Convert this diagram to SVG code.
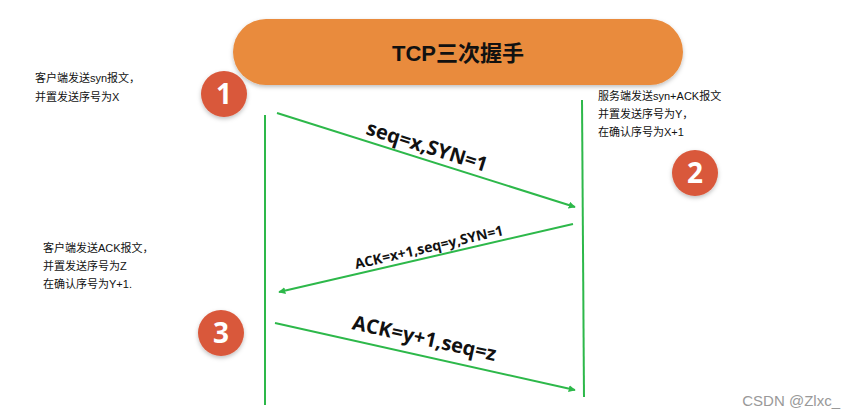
<svg xmlns="http://www.w3.org/2000/svg" width="841" height="418" viewBox="0 0 841 418">
<defs>
<marker id="ah" viewBox="0 0 10 10" refX="9" refY="5" markerWidth="7" markerHeight="7" orient="auto" markerUnits="userSpaceOnUse"><path d="M0,0 L10,5 L0,10 z" fill="#2db84a"/></marker>
<filter id="sh" x="-10%" y="-20%" width="120%" height="150%"><feDropShadow dx="0" dy="2" stdDeviation="2" flood-color="#000" flood-opacity="0.25"/></filter>
</defs>
<style>
.ln{stroke:#2db84a;stroke-width:2;fill:none}
.ar{stroke:#2db84a;stroke-width:2;fill:none;marker-end:url(#ah)}
.c{fill:#d9583b;filter:url(#sh)}
.n{font-family:"Open Sans","Liberation Sans",sans-serif;font-weight:bold;font-size:28px;fill:#fff;text-anchor:middle}
.t{font-family:"Liberation Sans","Noto Sans CJK SC",sans-serif;font-size:11px;fill:#111}
.lb{font-family:"Open Sans","Liberation Sans",sans-serif;font-weight:bold;fill:#111;text-anchor:middle}
</style>
<rect width="841" height="418" fill="#fff"/>
<g id="title"><rect x="233" y="19" width="450" height="66" rx="33" fill="#e98b3d" filter="url(#sh)"/>
<text x="458" y="61" font-family="Liberation Sans,Noto Sans CJK SC,sans-serif" font-weight="bold" font-size="22" text-anchor="middle" fill="#111">TCP三次握手</text></g>
<g id="n1"><circle class="c" cx="224" cy="94" r="23"/><text class="n" x="224" y="104">1</text></g>
<g id="n2"><circle class="c" cx="695" cy="173" r="23"/><text class="n" x="695" y="183">2</text></g>
<g id="n3"><circle class="c" cx="221" cy="333" r="23"/><text class="n" x="221" y="343">3</text></g>
<g id="texts">
<text class="t" x="35" y="82">客户端发送syn报文，</text>
<text class="t" x="35" y="101">并置发送序号为X</text>
<text class="t" x="598" y="100">服务端发送syn+ACK报文</text>
<text class="t" x="598" y="118">并置发送序号为Y，</text>
<text class="t" x="598" y="136">在确认序号为X+1</text>
<text class="t" x="43" y="252">客户端发送ACK报文，</text>
<text class="t" x="43" y="270">并置发送序号为Z</text>
<text class="t" x="43" y="288">在确认序号为Y+1.</text>
<text x="840" y="406" font-family="Liberation Sans,sans-serif" font-size="15" fill="#999" text-anchor="end">CSDN @Zlxc_</text>
</g>
<g id="connectors">
<line class="ln" x1="265" y1="115" x2="265" y2="405"/>
<line class="ln" x1="582" y1="100" x2="584" y2="397"/>
<line class="ar" x1="277" y1="113" x2="575" y2="207"/>
<line class="ar" x1="573" y1="224" x2="279" y2="292"/>
<line class="ar" x1="275" y1="323" x2="575" y2="390"/>
<text class="lb" font-size="20" transform="translate(425,153) rotate(17.5)">seq=x,SYN=1</text>
<text class="lb" font-size="14" transform="translate(430,252) rotate(-13)">ACK=x+1,seq=y,SYN=1</text>
<text class="lb" font-size="20" transform="translate(423,345) rotate(12.6)">ACK=y+1,seq=z</text>
</g>
</svg>
